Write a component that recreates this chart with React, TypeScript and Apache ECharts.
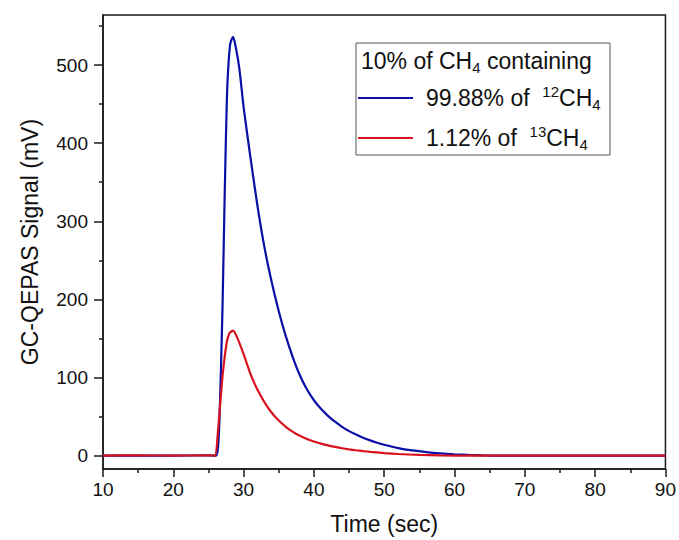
import React, { useEffect, useRef } from "react";
import * as echarts from "echarts";

// Time (sec) and signal (mV)
const blueTime = [10, 15, 20, 25, 26.1, 26.4, 26.6, 27.0, 27.3, 27.6, 27.8, 28.1, 28.5, 28.9, 29.4, 30, 31, 32, 33, 34, 35, 36, 37, 38, 39, 40, 41, 42, 43, 44, 45, 46, 47, 48, 49, 50, 52, 54, 56, 58, 60, 62, 64, 66, 70, 80, 90];
const blueValues = [0, 0, 0, 0.5, 0, 15, 55, 190, 330, 450, 494, 527, 536, 522, 495, 446, 380, 318, 265, 222, 185, 153, 126, 103, 85, 71, 60, 51, 43.5, 37, 31.5, 27, 23, 19.6, 16.6, 14, 9.8, 6.8, 4.6, 3, 1.9, 1.1, 0.5, 0.1, 0, 0, 0];

const redTime = [10, 15, 20, 25, 25.9, 26.35, 26.7, 27.06, 27.6, 28.0, 28.5, 29, 30, 31, 32, 33, 34, 35, 36, 37, 38, 39, 40, 41, 42, 43, 44, 45, 46, 47, 48, 50, 52, 55, 58, 62, 70, 80, 90];
const redValues = [0, 0.5, 0, 0.5, 0, 31, 70, 107, 145, 157, 160, 153, 130, 104, 84, 68, 55, 45, 37, 30.5, 25.5, 21.5, 18.2, 15.5, 13.2, 11.3, 9.6, 8.2, 7, 5.9, 5, 3.4, 2.2, 1, 0.4, 0, 0, 0, 0];

const xTicks = [10, 20, 30, 40, 50, 60, 70, 80, 90];
const yTicks = [0, 100, 200, 300, 400, 500];
const yMinorTicks = [50, 150, 250, 350, 450, 550];

const seriesNames = ["blue", "red"];

const FONT = "'Liberation Sans', Arial, sans-serif";

export default function App() {
  const ref = useRef<HTMLDivElement>(null);
  useEffect(() => {
    document.body.style.margin = "0";
    const chart = echarts.init(ref.current!, null, { renderer: "svg" });
    const blueData = blueTime.map((t, i) => [t, blueValues[i]]);
    const redData = redTime.map((t, i) => [t, redValues[i]]);
    const axisColor = "#1a1a1a";
    const richLegend = {
      a: { fontSize: 23, fontFamily: FONT, color: "#111", lineHeight: 28, verticalAlign: "middle" },
      sup: { fontSize: 15, fontFamily: FONT, color: "#111", lineHeight: 15, verticalAlign: "top" },
      sub: { fontSize: 15, fontFamily: FONT, color: "#111", lineHeight: 15, verticalAlign: "bottom" },
    };
    chart.setOption({
      animation: false,
      backgroundColor: "#fff",
      textStyle: { fontFamily: FONT },
      grid: {
        left: 103,
        right: 12,
        top: 15,
        bottom: 70,
        show: true,
        borderColor: axisColor,
        borderWidth: 1.5,
        backgroundColor: "transparent",
      },
      legend: {
        orient: "vertical",
        left: 358,
        top: 84,
        padding: 0,
        icon: "rect",
        itemWidth: 55,
        itemHeight: 2,
        itemGap: 12,
        data: seriesNames,
        formatter: (name: string) =>
          name === "blue"
            ? "{a|99.88% of  }{sup|12}{a|CH}{sub|4}"
            : "{a|1.12% of  }{sup|13}{a|CH}{sub|4}",
        textStyle: { rich: richLegend, padding: [0, 0, 0, 8] },
      },
      graphic: [
        {
          type: "rect",
          shape: { x: 356, y: 43, width: 254, height: 112 },
          style: { fill: "#fff", stroke: "#555", lineWidth: 1 },
          z: 0,
        },
        {
          type: "text",
          x: 361,
          y: 47,
          style: {
            text: "{a|10% of CH}{sub|4}{a| containing}",
            rich: richLegend,
            fill: "#111",
          },
          z: 1,
        },
      ],
      xAxis: {
        type: "value",
        min: 10,
        max: 90,
        interval: 10,
        name: "Time (sec)",
        nameLocation: "middle",
        nameGap: 43,
        nameTextStyle: { fontSize: 23, color: "#111", fontFamily: FONT },
        axisLine: { show: true, onZero: false, lineStyle: { color: axisColor, width: 1.5 } },
        axisTick: { show: true, length: 8, lineStyle: { color: axisColor, width: 1.5 } },
        minorTick: { show: true, splitNumber: 2, length: 4, lineStyle: { color: axisColor, width: 1.5 } },
        axisLabel: { fontSize: 19, color: "#111", margin: 11, fontFamily: FONT, customValues: xTicks },
        splitLine: { show: false },
        minorSplitLine: { show: false },
      },
      yAxis: [
        {
          type: "value",
          min: -17,
          max: 564,
          name: "GC-QEPAS Signal (mV)",
          nameLocation: "middle",
          nameGap: 62,
          nameTextStyle: { fontSize: 23, color: "#111", fontFamily: FONT },
          axisLine: { show: true, onZero: false, lineStyle: { color: axisColor, width: 1.5 } },
          axisTick: { show: true, length: 9, customValues: yTicks, lineStyle: { color: axisColor, width: 1.5 } },
          axisLabel: { fontSize: 19, color: "#111", margin: 15, fontFamily: FONT, customValues: yTicks },
          splitLine: { show: false },
        },
        {
          type: "value",
          min: -17,
          max: 564,
          position: "left",
          axisLine: { show: false },
          axisTick: { show: true, length: 4, customValues: yMinorTicks, lineStyle: { color: axisColor, width: 1.5 } },
          axisLabel: { show: false },
          splitLine: { show: false },
        },
      ],
      series: [
        {
          name: "blue",
          type: "line",
          data: blueData,
          showSymbol: false,
          smooth: 0.25,
          lineStyle: { color: "#0a0fa5", width: 2.2 },
          itemStyle: { color: "#0a0fa5" },
          z: 3,
        },
        {
          name: "red",
          type: "line",
          data: redData,
          showSymbol: false,
          smooth: 0.25,
          lineStyle: { color: "#d8121c", width: 2.2 },
          itemStyle: { color: "#d8121c" },
          z: 4,
        },
      ],
    });
    return () => chart.dispose();
  }, []);
  return <div ref={ref} style={{ position: "absolute", left: 0, top: 0, width: 679, height: 540 }} />;
}
